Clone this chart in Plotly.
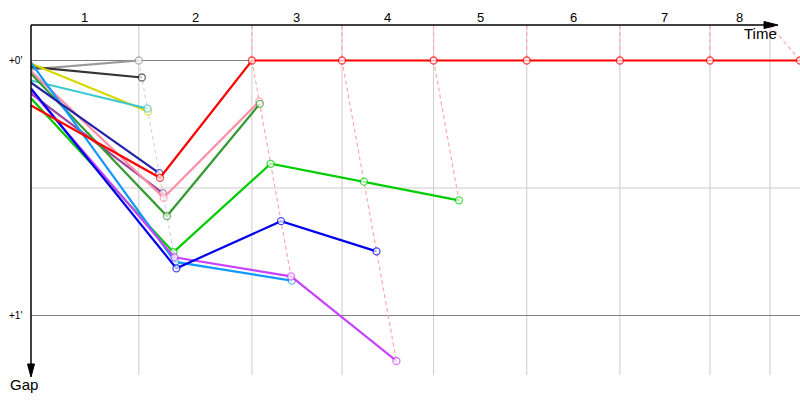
import plotly.graph_objects as go

# ---------------- data ----------------
# leader's elapsed time (s) at the end of each lap (index 0 = start)
leader_times = [0, 140, 287, 404, 523, 644, 765, 882, 999]
time_limit = 960
lap_labels = ["1", "2", "3", "4", "5", "6", "7", "8"]
leader_of_lap = ["gray", "red", "red", "red", "red", "red", "red", "red"]

# gap to leader (s): index 0 = start, then lap 1, lap 2 ...
gap_gray = [2.1, 0.0]
gap_black = [1.5, 4.0]
gap_yellow = [0.7, 12.0]
gap_cyan = [4.7, 11.3]
gap_navy = [5.2, 26.5]
gap_purple = [7.8, 31.2]
gap_pink = [2.5, 32.3, 9.6]
gap_darkgreen = [3.1, 36.6, 10.2]
gap_green = [8.9, 45.1, 24.3, 28.5, 32.9]
gap_magenta = [7.1, 46.3, 50.8, 70.7]
gap_lightblue = [0.5, 47.4, 51.8]
gap_blue = [6.6, 48.9, 37.8, 44.9]
gap_red = [10.6, 27.6, 0, 0, 0, 0, 0, 0, 0]

series = [
    ("gray", "#999999", gap_gray),
    ("black", "#333333", gap_black),
    ("yellow", "#d8d800", gap_yellow),
    ("cyan", "#3cc8d0", gap_cyan),
    ("purple", "#994499", gap_purple),
    ("pink", "#ff8fa8", gap_pink),
    ("darkgreen", "#339933", gap_darkgreen),
    ("green", "#00cc00", gap_green),
    ("lightblue", "#1199ff", gap_lightblue),
    ("magenta", "#c844ff", gap_magenta),
    ("blue", "#0000ee", gap_blue),
    ("navy", "#2222aa", gap_navy),
    ("red", "#ff0000", gap_red),
]
gap_grid = [0, 30, 60]
gap_labels = {0: "+0'", 60: "+1'"}

# ---------------- layout geometry ----------------
W, H = 800, 400
L, T, R, B = 31, 25, 0, 25
PW, PH = W - L - R, H - T - B
X_MAX = 999
Y_TOP = -35.5 / 4.25
Y_BOT = Y_TOP + PH / 4.25


def px(x):
    return (x - L) / PW


def py(y):
    return (H - B - y) / PH


fig = go.Figure()
shapes = []
annotations = []

# vertical lap grid lines
for t in leader_times[1:8] + [time_limit]:
    shapes.append(dict(type="line", xref="x", yref="paper", x0=t, x1=t, y0=0, y1=1,
                       line=dict(color="#cccccc", width=1), layer="below"))
# horizontal gap grid lines
for g in gap_grid:
    shapes.append(dict(type="line", xref="paper", yref="y", x0=0, x1=1, y0=g, y1=g,
                       line=dict(color="#808080" if g in gap_labels else "#cccccc", width=1),
                       layer="below"))

# dashed lap-completion lines
for lap in range(1, 9):
    t = leader_times[lap]
    gaps_here = [s[2][lap] for s in series if len(s[2]) > lap]
    gmax = max(gaps_here)
    top_t = time_limit if lap == 8 else t
    col = "#d8d8d8" if leader_of_lap[lap - 1] == "gray" else "#ffaaaa"
    xs = [top_t, t, t + gmax]
    ys = [Y_TOP, 0, gmax]
    fig.add_trace(go.Scatter(x=xs, y=ys, mode="lines", hoverinfo="skip", showlegend=False,
                             line=dict(color=col, width=1.2, dash="4px,3px")))

# driver traces
for name, col, gaps in series:
    xs = [0] + [leader_times[k] + gaps[k] for k in range(1, len(gaps))]
    sizes = [0] + [7] * (len(gaps) - 1)
    fig.add_trace(go.Scatter(
        x=xs, y=gaps, mode="lines+markers", name=name, showlegend=False,
        line=dict(color=col, width=2.2),
        marker=dict(size=sizes, color="white", line=dict(color=col, width=1.3)),
    ))

# axes (drawn by hand, with arrows)
shapes.append(dict(type="line", xref="paper", yref="paper", x0=0, x1=px(770), y0=1, y1=1,
                   line=dict(color="black", width=1.5)))
shapes.append(dict(type="path", xref="paper", yref="paper",
                   path=f"M {px(764)} {py(21.5)} L {px(778)} {py(25)} L {px(764)} {py(28.5)} Z",
                   fillcolor="black", line=dict(color="black", width=1)))
shapes.append(dict(type="line", xref="paper", yref="paper", x0=0, x1=0, y0=1, y1=py(368),
                   line=dict(color="black", width=1.5)))
shapes.append(dict(type="path", xref="paper", yref="paper",
                   path=f"M {px(27.5)} {py(364)} L {px(31)} {py(377)} L {px(34.5)} {py(364)} Z",
                   fillcolor="black", line=dict(color="black", width=1)))

FONT = "Liberation Sans"
bounds = leader_times[:8] + [time_limit]
for i, lab in enumerate(lap_labels):
    annotations.append(dict(x=(bounds[i] + bounds[i + 1]) / 2, xref="x", y=py(18), yref="paper",
                            text=lab, showarrow=False, xanchor="center", yanchor="middle",
                            font=dict(family=FONT, size=13, color="black")))
for g, lab in gap_labels.items():
    annotations.append(dict(x=px(24), xref="paper", y=g, yref="y", text=lab, showarrow=False,
                            xanchor="right", yanchor="middle",
                            font=dict(family=FONT, size=10, color="black")))
annotations.append(dict(x=px(760), xref="paper", y=py(34), yref="paper", text="Time",
                        showarrow=False, xanchor="center", yanchor="middle",
                        font=dict(family=FONT, size=15, color="black")))
annotations.append(dict(x=px(24), xref="paper", y=py(385), yref="paper", text="Gap",
                        showarrow=False, xanchor="center", yanchor="middle",
                        font=dict(family=FONT, size=15, color="black")))

fig.update_layout(
    width=W, height=H,
    margin=dict(l=L, r=R, t=T, b=B, pad=0),
    paper_bgcolor="white", plot_bgcolor="white",
    xaxis=dict(range=[0, X_MAX], showgrid=False, zeroline=False, showticklabels=False,
               showline=False, fixedrange=True),
    yaxis=dict(range=[Y_BOT, Y_TOP], showgrid=False, zeroline=False, showticklabels=False,
               showline=False, fixedrange=True),
    shapes=shapes, annotations=annotations,
    showlegend=False,
)
fig.write_html("out.html", config={"displayModeBar": False},
               post_script="document.body.style.margin='0px';document.body.style.overflow='hidden';")
